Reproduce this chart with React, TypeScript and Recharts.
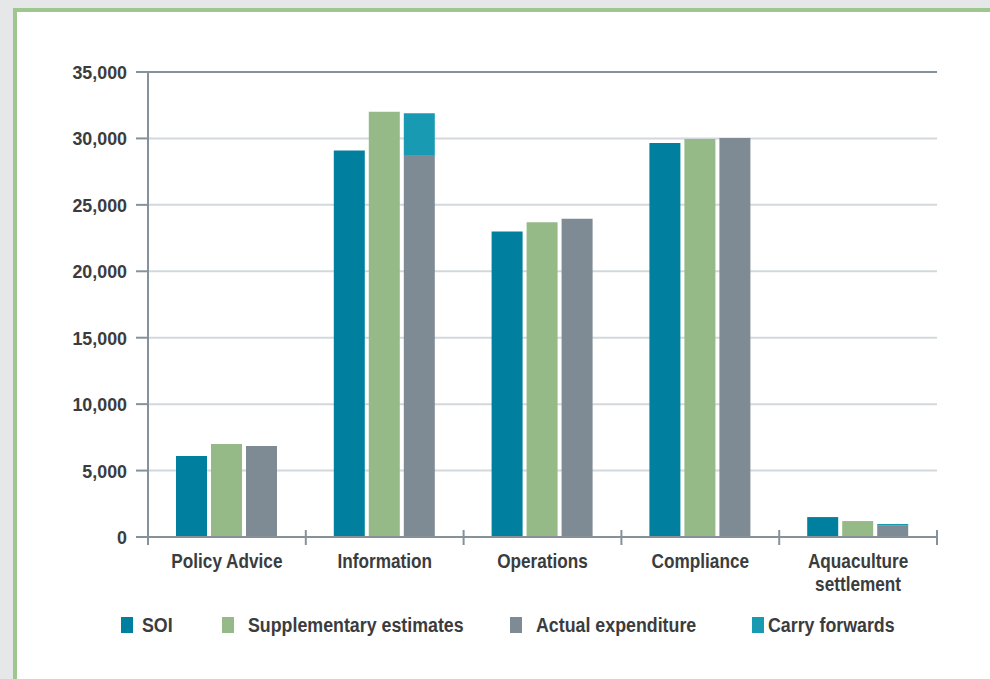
import React from 'react';
import { BarChart, Bar, XAxis, YAxis, CartesianGrid, ReferenceLine } from 'recharts';

const categories = ['Policy Advice', 'Information', 'Operations', 'Compliance', 'Aquaculture settlement'];
const soi = [6100, 29100, 23000, 29650, 1500];
const supplementary = [7000, 32000, 23700, 29950, 1200];
const actual = [6850, 28750, 23950, 30030, 850];
const carryForwards = [0, 3150, 0, 0, 130];
const yTicks = [0, 5000, 10000, 15000, 20000, 25000, 30000, 35000];

const data = categories.map((name, i) => ({
  name,
  soi: soi[i],
  supplementary: supplementary[i],
  actual: actual[i],
  carry: carryForwards[i],
}));

const series = [
  { key: 'soi', label: 'SOI', color: '#00809e' },
  { key: 'supplementary', label: 'Supplementary estimates', color: '#95ba87' },
  { key: 'actual', label: 'Actual expenditure', color: '#7f8b94' },
  { key: 'carry', label: 'Carry forwards', color: '#189bb2' },
];

// no condensed face installed, so squeeze Liberation Sans Bold horizontally
const FONT = "'Liberation Sans', Arial, sans-serif";
const SQUEEZE = 0.86;
const TEXT = '#3b3c3e';
const AXIS = '#86929a';
const GRID = '#d2d8dc';

const CHART_W = 990;
const CHART_H = 679;
const LEFT = 148;
const RIGHT = 53;
const BAND = (CHART_W - LEFT - RIGHT) / categories.length;

// legend swatch / label x positions
const swatchX = [121, 222, 510, 752];
const labelX = [142, 248, 536, 768];

const CategoryTick = (props: any) => {
  const { x, y, payload, index } = props;
  const label: string = payload.value;
  const lines = label.length > 14 ? label.split(' ') : [label];
  const left = x - BAND / 2;
  const right = x + BAND / 2;
  return (
    <g>
      <line x1={left} x2={left} y1={y - 7} y2={y + 8} stroke={AXIS} strokeWidth={2} />
      {index === categories.length - 1 && (
        <line x1={right} x2={right} y1={y - 7} y2={y + 8} stroke={AXIS} strokeWidth={2} />
      )}
      <text
        transform={`translate(${x},${y + 31}) scale(${SQUEEZE},1)`}
        textAnchor="middle"
        fill={TEXT}
        fontFamily={FONT}
        fontWeight="bold"
        fontSize={20}
      >
        {lines.map((l, i) => (
          <tspan key={i} x={0} dy={i === 0 ? 0 : 23}>{l}</tspan>
        ))}
      </text>
    </g>
  );
};

const ValueTick = (props: any) => {
  const { x, y, payload } = props;
  return (
    <text
      transform={`translate(${x},${y + 7}) scale(0.94,1)`}
      textAnchor="end"
      fill={TEXT}
      fontFamily={FONT}
      fontWeight="bold"
      fontSize={19}
    >
      {Number(payload.value).toLocaleString('en-US')}
    </text>
  );
};

export default function App() {
  return (
    <div style={{ position: 'fixed', left: 0, top: 0, width: 990, height: 679, background: '#e6e7e8', overflow: 'hidden' }}>
      <div
        style={{
          position: 'absolute',
          left: 13,
          top: 8,
          width: 1000,
          height: 700,
          background: '#fff',
          border: '4px solid #9dc78e',
        }}
      />
      <div style={{ position: 'absolute', left: 0, top: 0 }}>
        <BarChart
          width={CHART_W}
          height={CHART_H}
          data={data}
          margin={{ top: 72, right: RIGHT, left: 0, bottom: 0 }}
          barSize={31}
          barGap={4}
        >
          <CartesianGrid vertical={false} stroke={GRID} strokeWidth={2} />
          <XAxis
            dataKey="name"
            height={142}
            tickLine={false}
            tickSize={0}
            tickMargin={0}
            axisLine={{ stroke: AXIS, strokeWidth: 2 }}
            tick={<CategoryTick />}
            interval={0}
          />
          <YAxis
            width={LEFT}
            domain={[0, 35000]}
            ticks={yTicks}
            interval={0}
            tickSize={12}
            tickMargin={9}
            tickLine={{ stroke: AXIS, strokeWidth: 2 }}
            axisLine={{ stroke: AXIS, strokeWidth: 2 }}
            tick={<ValueTick />}
          />
          <YAxis
            yAxisId="frame"
            orientation="right"
            width={0}
            tick={false}
            tickLine={false}
            axisLine={{ stroke: AXIS, strokeWidth: 2 }}
          />
          <ReferenceLine y={35000} stroke={AXIS} strokeWidth={2} />
          <Bar dataKey="soi" stackId="s1" fill={series[0].color} isAnimationActive={false} />
          <Bar dataKey="supplementary" stackId="s2" fill={series[1].color} isAnimationActive={false} />
          <Bar dataKey="actual" stackId="s3" fill={series[2].color} isAnimationActive={false} />
          <Bar dataKey="carry" stackId="s3" fill={series[3].color} isAnimationActive={false} />
        </BarChart>
      </div>
      {series.map((s, i) => (
        <React.Fragment key={s.key}>
          <div
            style={{ position: 'absolute', left: swatchX[i], top: 617, width: 12, height: 16, background: s.color }}
          />
          <div
            style={{
              position: 'absolute',
              left: labelX[i],
              top: 613,
              fontFamily: FONT,
              fontWeight: 'bold',
              fontSize: 20,
              lineHeight: '24px',
              color: TEXT,
              whiteSpace: 'nowrap',
              transform: 'scale(0.89,1)',
              transformOrigin: 'left center',
            }}
          >
            {s.label}
          </div>
        </React.Fragment>
      ))}
    </div>
  );
}
